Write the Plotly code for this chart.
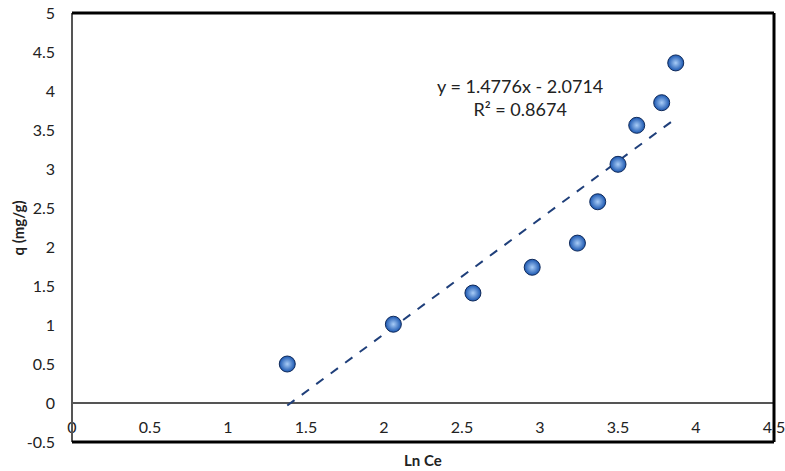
import plotly.graph_objects as go

ln_ce = [1.38, 2.06, 2.57, 2.95, 3.24, 3.37, 3.50, 3.62, 3.78, 3.87]
q_vals = [0.50, 1.01, 1.41, 1.74, 2.05, 2.58, 3.06, 3.56, 3.85, 4.36]
slope = 1.4776
intercept = -2.0714
r2 = 0.8674

x_ticks = [0, 0.5, 1, 1.5, 2, 2.5, 3, 3.5, 4, 4.5]
x_ticktext = ["0", "0.5", "1", "1.5", "2", "2.5", "3", "3.5", "4", "4.5"]
y_ticks = [-0.5, 0, 0.5, 1, 1.5, 2, 2.5, 3, 3.5, 4, 4.5, 5]
y_ticktext = ["-0.5", "0", "0.5", "1", "1.5", "2", "2.5", "3", "3.5", "4", "4.5", "5"]

x_min, x_max = 0, 4.5
y_min, y_max = -0.5, 5

font_family = "Lato, 'Open Sans', sans-serif"
text_color = "#222222"

trend_x = [min(ln_ce), max(ln_ce)]
trend_y = [slope * v + intercept for v in trend_x]

fig = go.Figure()
fig.add_trace(go.Scatter(
    x=trend_x, y=trend_y, mode="lines",
    line=dict(color="#1f3f7a", width=2, dash="dash"),
    hoverinfo="skip", showlegend=False,
))
fig.add_trace(go.Scatter(
    x=ln_ce, y=q_vals, mode="markers",
    marker=dict(size=16, color="#1a56b0",
                gradient=dict(type="radial", color="#a8ccf7"),
                line=dict(color="#102a5a", width=1)),
    showlegend=False,
))

zero_pos = (0 - y_min) / (y_max - y_min)

fig.update_layout(
    width=785, height=471,
    margin=dict(l=72, r=11, t=13, b=29),
    paper_bgcolor="white", plot_bgcolor="white",
    font=dict(family=font_family, size=16, color=text_color),
    xaxis=dict(range=[x_min, x_max], tickvals=x_ticks, ticktext=x_ticktext,
               showgrid=False, zeroline=False, showline=False,
               anchor="free", position=zero_pos, ticks="",
               ticklabelstandoff=13, automargin=False,
               ticklabeloverflow="allow"),
    yaxis=dict(range=[y_min, y_max], tickvals=y_ticks, ticktext=y_ticktext,
               showgrid=False, zeroline=True, zerolinecolor="#555555",
               zerolinewidth=1.5, showline=False, ticks="",
               ticklabelstandoff=16, automargin=False,
               ticklabeloverflow="allow"),
    shapes=[
        dict(type="line", xref="paper", yref="paper", x0=0, x1=0, y0=0, y1=1,
             line=dict(color="#555555", width=2)),
        dict(type="line", xref="paper", yref="paper", x0=0, x1=1, y0=1, y1=1,
             line=dict(color="black", width=3)),
        dict(type="line", xref="paper", yref="paper", x0=0, x1=1, y0=0, y1=0,
             line=dict(color="black", width=3)),
        dict(type="line", xref="paper", yref="paper", x0=1, x1=1, y0=0, y1=1,
             line=dict(color="black", width=3)),
    ],
    annotations=[
        dict(text=f"y = {slope}x - {abs(intercept)}<br>R² = {r2}",
             x=2.87, y=3.92, xref="x", yref="y", showarrow=False,
             align="center", font=dict(size=18, color=text_color)),
        dict(text="<b>Ln Ce</b>", x=0.5, y=-0.017, xref="paper", yref="paper",
             showarrow=False, yanchor="top", font=dict(size=15, color=text_color)),
        dict(text="<b>q (mg/g)</b>", x=-0.077, y=0.5, xref="paper", yref="paper",
             showarrow=False, textangle=-90, xanchor="center",
             font=dict(size=15, color=text_color)),
    ],
)

fig.write_html("out.html", config={"displayModeBar": False},
               post_script="document.body.style.margin='0';document.body.style.padding='0';")
